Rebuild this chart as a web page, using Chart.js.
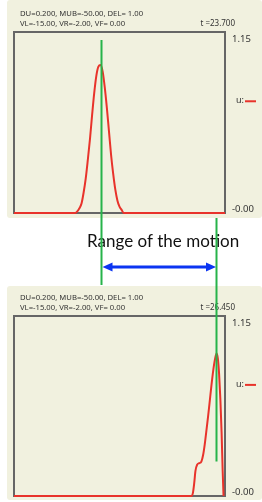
<!DOCTYPE html>
<html>
<head>
<meta charset="utf-8">
<script src="https://cdn.jsdelivr.net/npm/chart.js@4.4.1/dist/chart.umd.min.js"></script>
<style>
  html, body { margin: 0; padding: 0; background: #fff; }
  body { width: 262px; height: 502px; position: relative; overflow: hidden; }
  .panel { position: absolute; left: 7px; background: #f1f1df; border-radius: 3px; }
  #c1 { top: 0; }
  #c2 { top: 286px; }
  #overlay { position: absolute; left: 0; top: 0; pointer-events: none; }
</style>
</head>
<body>
<canvas class="panel" id="c1" width="255" height="218"></canvas>
<canvas class="panel" id="c2" width="255" height="214"></canvas>
<canvas id="overlay" width="262" height="502"></canvas>
<script>
// data
const xRange = [0, 100];
const yRange = [0, 1.15];
const yTickLabels = ['-0.00', '1.15'];
const seriesName = 'u:';
const paramLines = ['DU=0.200, MUB=-50.00, DEL= 1.00', 'VL=-15.00, VR=-2.00, VF= 0.00'];
const times = ['t =23.700', 't =26.450'];
const rangeLabel = 'Range of the motion';

// first snapshot (t = 23.7)
const x1 = [0, 29, 30, 31, 32, 33, 34, 35, 36, 37, 38, 39, 40, 41, 42, 43, 44, 45, 46, 47, 48, 49, 50, 51, 52, 100];
const u1 = [0, 0, 0.01, 0.03, 0.06, 0.13, 0.22, 0.34, 0.47, 0.62, 0.76, 0.87, 0.93, 0.94, 0.90, 0.80, 0.67, 0.52, 0.37, 0.25, 0.15, 0.08, 0.04, 0.02, 0, 0];

// second snapshot (t = 26.45)
const x2 = [0, 84, 84.8, 85.4, 86.0, 86.8, 87.8, 88.8, 89.6, 90.4, 91.2, 92.0, 92.8, 93.6, 94.4, 95.2, 96.0, 96.6, 97.2, 97.8, 98.4, 98.9, 99.3];
const u2 = [0, 0, 0.02, 0.08, 0.16, 0.20, 0.21, 0.22, 0.26, 0.33, 0.42, 0.51, 0.61, 0.71, 0.80, 0.87, 0.91, 0.88, 0.78, 0.62, 0.40, 0.16, 0];

const RED = '#e8332b';
const GREEN = '#27b34a';
const BLUE = '#0b35f2';
const FRAME = '#666666';
const TEXT = '#333333';

// frame, headers, y labels and legend for one panel
function decor(time) {
  return {
    id: 'decor',
    beforeDatasetsDraw(chart) {
      const { ctx, chartArea: a } = chart;
      ctx.save();
      ctx.strokeStyle = FRAME;
      ctx.lineWidth = 2;
      ctx.strokeRect(a.left, a.top, a.right - a.left, a.bottom - a.top);
      ctx.restore();
    },
    afterDatasetsDraw(chart) {
      const { ctx, chartArea: a } = chart;
      const y = chart.scales.y;
      ctx.save();
      ctx.fillStyle = TEXT;
      ctx.font = '7.7px "Noto Sans"';
      ctx.textBaseline = 'middle';
      ctx.textAlign = 'left';
      ctx.fillText(paramLines[0], a.left + 6, a.top - 18);
      ctx.fillText(paramLines[1], a.left + 6, a.top - 8.5);
      ctx.font = '8px "Noto Sans"';
      ctx.textAlign = 'right';
      ctx.fillText(time, a.right + 10, a.top - 8.5);

      ctx.font = '9.5px "Noto Sans"';
      ctx.textAlign = 'left';
      ctx.textBaseline = 'top';
      ctx.fillText(yTickLabels[1], a.right + 7, y.getPixelForValue(yRange[1]) + 3);
      ctx.textBaseline = 'bottom';
      ctx.fillText(yTickLabels[0], a.right + 7, y.getPixelForValue(yRange[0]) + 1);

      const ly = a.top + (a.bottom - a.top) * 0.38;
      ctx.font = '9px "Noto Sans"';
      ctx.textBaseline = 'middle';
      ctx.fillText(seriesName, a.right + 11, ly);
      ctx.strokeStyle = RED;
      ctx.lineWidth = 2;
      ctx.beginPath();
      ctx.moveTo(a.right + 20, ly + 0.5);
      ctx.lineTo(a.right + 31, ly + 0.5);
      ctx.stroke();
      ctx.restore();
    }
  };
}

function makePanel(id, xs, us, time, pad) {
  return new Chart(document.getElementById(id), {
    type: 'line',
    data: {
      datasets: [{
        label: seriesName,
        data: xs.map((x, i) => ({ x: x, y: us[i] })),
        borderColor: RED,
        borderWidth: 2,
        pointRadius: 0,
        cubicInterpolationMode: 'monotone',
        clip: false
      }]
    },
    options: {
      responsive: false,
      animation: false,
      layout: { padding: pad },
      plugins: { legend: { display: false }, tooltip: { enabled: false } },
      scales: {
        x: { type: 'linear', min: xRange[0], max: xRange[1], display: false },
        y: { min: yRange[0], max: yRange[1], display: false }
      }
    },
    plugins: [decor(time)]
  });
}

const chart1 = makePanel('c1', x1, u1, times[0], { left: 7, right: 37, top: 32, bottom: 5 });
const chart2 = makePanel('c2', x2, u2, times[1], { left: 7, right: 37, top: 30, bottom: 4 });

// green markers at the two peaks, arrow and caption between the panels
function peakX(xs, us) { return xs[us.indexOf(Math.max(...us))]; }
function pageX(chart, v) { return chart.canvas.offsetLeft + chart.scales.x.getPixelForValue(v); }
function pageY(chart, v) { return chart.canvas.offsetTop + chart.scales.y.getPixelForValue(v); }

const ov = document.getElementById('overlay').getContext('2d');
const gx1 = Math.round(pageX(chart1, peakX(x1, u1))) + 0.5;
const gx2 = Math.round(pageX(chart2, peakX(x2, u2))) - 0.5;
const top1 = chart1.canvas.offsetTop + chart1.chartArea.top + 8;
const bottom1 = chart2.canvas.offsetTop - 1;
const top2 = chart1.canvas.offsetTop + chart1.canvas.height;
const bottom2 = pageY(chart2, 0.22);

ov.font = '17px Lato';
ov.fillStyle = '#111';
ov.textBaseline = 'alphabetic';
ov.fillText(rangeLabel, 87, 247);

ov.strokeStyle = GREEN;
ov.lineWidth = 2;
ov.beginPath();
ov.moveTo(gx1, top1); ov.lineTo(gx1, bottom1);
ov.moveTo(gx2, top2); ov.lineTo(gx2, bottom2);
ov.stroke();

const ay = 267;
const ax1 = gx1 + 1, ax2 = gx2 - 0.5;
ov.strokeStyle = BLUE;
ov.fillStyle = BLUE;
ov.lineWidth = 3;
ov.beginPath();
ov.moveTo(ax1 + 6, ay); ov.lineTo(ax2 - 6, ay);
ov.stroke();
ov.beginPath();
ov.moveTo(ax1, ay); ov.lineTo(ax1 + 10, ay - 4.5); ov.lineTo(ax1 + 10, ay + 4.5); ov.closePath();
ov.moveTo(ax2, ay); ov.lineTo(ax2 - 10, ay - 4.5); ov.lineTo(ax2 - 10, ay + 4.5); ov.closePath();
ov.fill();
</script>
</body>
</html>
